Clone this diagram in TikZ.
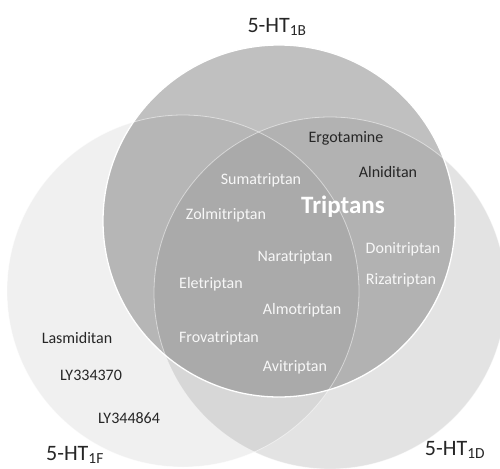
\documentclass[tikz,border=0pt]{standalone}
\usepackage{fontspec}
\setmainfont{Carlito}
\definecolor{cF}{HTML}{F0F0F0}
\definecolor{cD}{HTML}{E3E3E3}
\definecolor{cFD}{HTML}{D7D7D7}
\definecolor{cB}{HTML}{C0C0C0}
\definecolor{cBF}{HTML}{B6B6B6}
\definecolor{cBD}{HTML}{B2B2B2}
\definecolor{cBFD}{HTML}{AAAAAA}
\definecolor{darktext}{HTML}{262626}
\definecolor{lighttext}{HTML}{F7F7F7}
\tikzset{
  drugdark/.style={font=\fontsize{16}{18}\selectfont, text=darktext, inner sep=0pt},
  druglight/.style={font=\fontsize{16}{18}\selectfont, text=lighttext, inner sep=0pt},
  receptor/.style={font=\fontsize{22}{24}\selectfont, text=darktext, inner sep=0pt},
  bigtitle/.style={font=\fontsize{25}{27}\selectfont\bfseries, text=white, inner sep=0pt},
  rim/.style={draw=white, line width=0.8pt, opacity=0.5},
  mainrim/.style={draw=white, line width=1.3pt}
}
\begin{document}
\begin{tikzpicture}[x=1pt,y=-1pt]
\useasboundingbox (0,0) rectangle (500,468);
\coordinate (cb) at (279,221);
\coordinate (cf) at (183,291);
\coordinate (cd) at (330,293);
% base circles
\fill[cF] (cf) circle[radius=176pt];
\fill[cD] (cd) circle[radius=176pt];
\begin{scope}
  \clip (cf) circle[radius=176pt];
  \fill[cFD] (cd) circle[radius=176pt];
\end{scope}
\fill[cB] (cb) circle[radius=176pt];
\begin{scope}
  \clip (cb) circle[radius=176pt];
  \fill[cBF] (cf) circle[radius=176pt];
  \fill[cBD] (cd) circle[radius=176pt];
  \clip (cf) circle[radius=176pt];
  \fill[cBFD] (cd) circle[radius=176pt];
\end{scope}
\draw[rim] (cf) circle[radius=176pt];
\draw[rim] (cd) circle[radius=176pt];
\begin{scope}
  \clip (0,0) rectangle (500,468);
  \draw[mainrim] (cb) circle[radius=176pt];
\end{scope}
% receptor labels
\node[receptor] (l1b) at (277,27) {5-HT\textsubscript{1B}};
\node[receptor] (l1f) at (75,455) {5-HT\textsubscript{1F}};
\node[receptor] (l1d) at (455,450) {5-HT\textsubscript{1D}};
% drugs
\node[drugdark] (ergo) at (346,138) {Ergotamine};
\node[drugdark] (alni) at (388,172) {Alniditan};
\node[bigtitle] (trip) at (343,207) {Triptans};
\node[druglight] (suma) at (261,180) {Sumatriptan};
\node[druglight] (zolm) at (226,215) {Zolmitriptan};
\node[druglight] (nara) at (295,257) {Naratriptan};
\node[druglight] (doni) at (403,249) {Donitriptan};
\node[druglight] (riza) at (401,280) {Rizatriptan};
\node[druglight] (elet) at (211,284) {Eletriptan};
\node[druglight] (almo) at (302,310) {Almotriptan};
\node[druglight] (frov) at (219,338) {Frovatriptan};
\node[druglight] (avit) at (295,367) {Avitriptan};
\node[drugdark] (lasm) at (77,338) {Lasmiditan};
\node[drugdark] (ly1) at (91,375) {LY334370};
\node[drugdark] (ly2) at (129,418) {LY344864};
\end{tikzpicture}
\end{document}
